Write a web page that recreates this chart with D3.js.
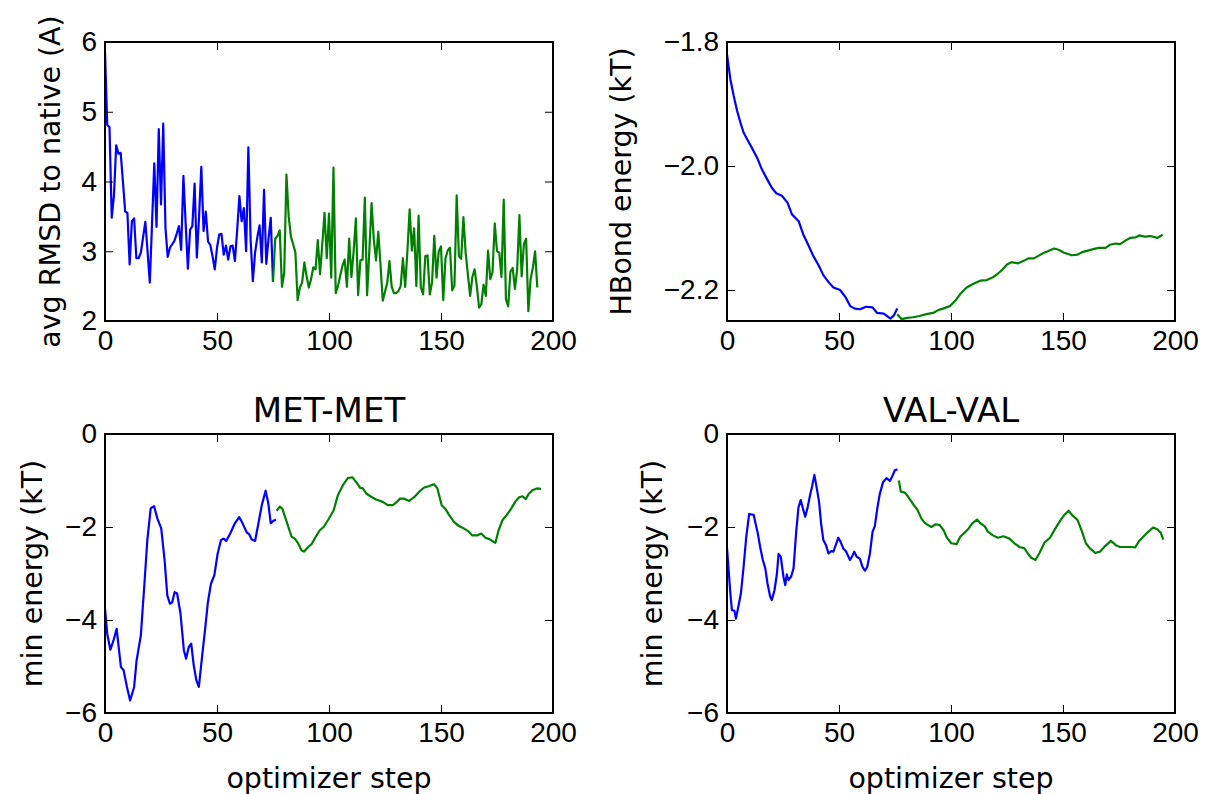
<!DOCTYPE html>
<html>
<head>
<meta charset="utf-8">
<script src="https://cdn.jsdelivr.net/npm/d3@7"></script>
<style>
  body { margin: 0; background: #fff; }
  svg { display: block; font-family: "DejaVu Sans", sans-serif; }
  .tick text { font-size: 28px; fill: #000; }
  .tick line { stroke: #000; stroke-width: 1; }
  .axis-label { font-size: 28.5px; fill: #000; }
  .panel-title { font-size: 34px; fill: #000; }
</style>
</head>
<body>
<svg id="chart" width="1207" height="794"></svg>
<script>
// Tick values
const stepTicks = [0, 50, 100, 150, 200];
const rmsdTicks = [2, 3, 4, 5, 6];
const hbondTicks = [-2.2, -2.0, -1.8];
const energyTicks = [-6, -4, -2, 0];

// avg RMSD to native, one value per optimizer step
const rmsdBlueStart = 0;
const rmsdBlue = [
  5.86, 4.81, 4.78, 3.48, 3.8, 4.52, 4.40, 4.41, 4.0, 3.57,
  3.55, 2.81, 3.43, 3.47, 2.90, 2.90, 2.98, 3.2, 3.42, 3.0,
  2.55, 3.4, 4.26, 3.35, 4.75, 3.67, 4.83, 3.33, 2.92, 3.05,
  3.1, 3.15, 3.25, 3.36, 3.02, 4.08, 3.4, 2.75, 3.31, 3.36,
  3.97, 2.91, 3.5, 4.21, 3.29, 3.57, 3.14, 3.09, 2.93, 2.74,
  3.05, 3.24, 3.25, 2.95, 3.08, 2.88, 3.07, 3.08, 2.86, 3.3,
  3.79, 3.43, 3.62, 3.0, 4.49, 3.17, 2.57, 2.98, 3.2, 3.37,
  2.84, 3.88, 2.82, 3.18, 3.48, 2.56
];
const rmsdGreenStart = 75;
const rmsdGreen = [
  2.56, 3.18, 3.22, 3.30, 2.49, 2.69, 4.10, 3.5, 3.21, 3.1,
  2.98, 2.30, 2.48, 2.55, 2.84, 2.64, 2.48, 2.6, 2.77, 2.74,
  3.16, 2.67, 3.1, 3.55, 2.9, 3.54, 2.62, 4.2, 2.40, 2.5,
  2.65, 2.79, 2.88, 2.49, 3.18, 2.63, 3.0, 3.47, 2.37, 2.87,
  2.88, 3.77, 2.37, 3.0, 3.69, 3.17, 2.87, 3.28, 2.8, 2.29,
  2.42, 2.55, 2.86, 2.49, 2.40, 2.40, 2.43, 2.50, 2.90, 2.49,
  3.0, 3.60, 3.01, 3.33, 2.50, 3.51, 2.48, 2.38, 2.93, 2.94,
  2.38, 2.55, 3.22, 2.62, 3.0, 3.07, 2.30, 2.9, 3.01, 3.05,
  2.44, 2.51, 3.80, 2.93, 2.89, 3.49, 2.98, 2.67, 2.36, 2.63,
  2.74, 2.50, 2.19, 2.24, 2.52, 2.36, 3.01, 2.60, 2.70, 3.40,
  3.0, 2.98, 2.63, 3.74, 2.31, 2.21, 2.71, 2.76, 2.46, 2.74,
  3.52, 2.64, 3.10, 3.18, 2.14, 2.60, 2.76, 3.0, 2.48
];

// HBond energy [step, kT]
const hbondBlue = [
  [0, -1.820], [1.5, -1.860], [3, -1.887], [4.5, -1.911], [6, -1.930], [7.4, -1.946],
  [9, -1.957], [11, -1.970], [13.5, -1.987], [15.5, -2.005], [18, -2.022], [20, -2.035],
  [22, -2.044], [24.5, -2.048], [27, -2.059], [29, -2.078], [32, -2.089], [34, -2.110],
  [36.5, -2.129], [38.5, -2.145], [41, -2.161], [43, -2.176], [45.5, -2.188], [47.5, -2.196],
  [50.5, -2.200], [53, -2.212], [55, -2.226], [57, -2.230], [59.5, -2.231], [62, -2.227],
  [65, -2.228], [67, -2.237], [70, -2.238], [73, -2.246], [74.5, -2.241], [76, -2.230]
];
const hbondGreen = [
  [76, -2.239], [78, -2.247], [80.5, -2.245], [83, -2.244], [86, -2.242], [89, -2.239],
  [92, -2.237], [94.5, -2.232], [96.5, -2.230], [99.5, -2.226], [102, -2.217], [104, -2.207],
  [107, -2.196], [110, -2.190], [113, -2.185], [116, -2.184], [118.5, -2.180], [120.5, -2.175],
  [123, -2.167], [125, -2.159], [127, -2.155], [130, -2.157], [132.5, -2.153], [134.5, -2.149],
  [137, -2.149], [139, -2.145], [141.5, -2.140], [143.5, -2.137], [146, -2.133], [148, -2.135],
  [150.5, -2.140], [154, -2.144], [156.5, -2.143], [158.5, -2.139], [161.5, -2.136], [163.5, -2.134],
  [166, -2.132], [169, -2.132], [171, -2.127], [173.5, -2.125], [175.5, -2.126], [178, -2.120],
  [180, -2.116], [182.5, -2.115], [184, -2.112], [186.5, -2.114], [189, -2.113], [192, -2.116],
  [194.5, -2.111]
];

// MET-MET min energy [step, kT]
const metBlue = [
  [0, -3.75], [1, -4.3], [2.4, -4.64], [3.8, -4.44], [5.2, -4.19], [7.1, -5.01], [8.3, -5.08],
  [9.8, -5.44], [11.2, -5.73], [13, -5.44], [14.1, -4.87], [16, -4.33], [17.5, -3.29],
  [18.9, -2.28], [20.4, -1.60], [21.9, -1.55], [23.4, -1.82], [25.1, -2.03], [26.6, -2.71],
  [27.8, -3.47], [29, -3.65], [30, -3.62], [31.1, -3.40], [32.2, -3.43], [33.7, -3.86],
  [35.2, -4.65], [36.2, -4.83], [37.4, -4.58], [38.5, -4.51], [39.6, -4.97], [40.8, -5.30],
  [41.9, -5.44], [43, -4.94], [44.8, -4.15], [45.9, -3.63], [47.3, -3.22], [48.8, -3.04],
  [50.3, -2.57], [51.8, -2.28], [53, -2.25], [54.1, -2.30], [55.9, -2.14], [58.1, -1.91],
  [59.9, -1.79], [61.1, -1.89], [63.3, -2.12], [64.3, -2.15], [65.5, -2.27], [67, -2.30],
  [68.5, -1.92], [70, -1.53], [71.7, -1.22], [72.9, -1.49], [74, -1.92], [75.1, -1.87],
  [76.3, -1.84]
];
const metGreen = [
  [76.6, -1.65], [78.1, -1.56], [79.3, -1.62], [81.1, -1.89], [83.3, -2.21], [84.8, -2.25],
  [86.2, -2.35], [87.7, -2.50], [88.8, -2.53], [90.7, -2.43], [92.2, -2.37], [94.1, -2.21],
  [95.9, -2.07], [97.6, -2.00], [99.6, -1.85], [102.1, -1.64], [104, -1.31], [106.2, -1.10],
  [108.4, -0.95], [110.4, -0.93], [112.1, -1.03], [113.9, -1.16], [115.1, -1.17], [116.6, -1.28],
  [118.8, -1.35], [121, -1.41], [124, -1.46], [126.2, -1.53], [128.4, -1.53], [129.9, -1.48],
  [131.7, -1.39], [133.6, -1.39], [135.8, -1.44], [138, -1.36], [140.3, -1.24], [142.5, -1.15],
  [144.7, -1.12], [146.9, -1.08], [148.4, -1.17], [150.3, -1.53], [152.1, -1.62], [153.6, -1.74],
  [155.8, -1.89], [158, -1.98], [160.2, -2.03], [162.4, -2.10], [163.9, -2.18], [166.1, -2.18],
  [168, -2.14], [169.8, -2.23], [171.6, -2.26], [172.8, -2.30], [174.3, -2.34], [175.7, -2.07],
  [177.5, -1.85], [179.4, -1.74], [181.4, -1.60], [183.1, -1.46], [184.9, -1.36], [186.4, -1.34],
  [187.9, -1.40], [189.1, -1.29], [190.8, -1.21], [192.8, -1.17], [194.7, -1.18]
];

// VAL-VAL min energy [step, kT]
const valBlue = [
  [0, -2.45], [1.5, -3.43], [2.2, -3.79], [3.3, -3.80], [4, -3.97], [5.2, -3.68], [6.2, -3.43],
  [7.4, -2.86], [8.6, -2.21], [9.9, -1.72], [11.9, -1.74], [13.6, -2.10], [14.8, -2.43],
  [16, -2.71], [17.1, -2.89], [18.1, -3.22], [19.3, -3.50], [20, -3.57], [21.2, -3.36],
  [22.3, -3.00], [23, -2.58], [24, -2.64], [25.2, -3.07], [26, -3.25], [26.7, -3.02],
  [27.4, -3.14], [28.6, -3.07], [29.7, -2.89], [30.9, -2.10], [31.9, -1.58], [32.9, -1.42],
  [34.1, -1.64], [34.9, -1.78], [35.9, -1.60], [37.1, -1.31], [38.1, -1.10], [39, -0.88],
  [40.1, -1.17], [41.1, -1.46], [42, -1.92], [43, -2.28], [44.2, -2.39], [45.3, -2.57],
  [46.4, -2.52], [47.5, -2.53], [48.7, -2.37], [49.7, -2.23], [50.7, -2.32], [51.9, -2.46],
  [53.1, -2.52], [54.9, -2.71], [55.9, -2.63], [56.8, -2.53], [57.9, -2.64], [59.3, -2.68],
  [60.5, -2.86], [61.6, -2.94], [62.6, -2.86], [63.8, -2.57], [65, -2.10], [66, -1.98],
  [67.1, -1.60], [68.2, -1.29], [69.7, -1.03], [71.2, -0.95], [72.7, -1.01], [73.9, -0.90],
  [74.9, -0.78], [76.1, -0.76]
];
const valGreen = [
  [76.7, -1.00], [77.6, -1.24], [79.4, -1.26], [80.9, -1.35], [83.1, -1.51], [84.9, -1.62],
  [86.8, -1.82], [88.3, -1.91], [89.8, -1.96], [91.2, -2.00], [93.2, -1.94], [95, -1.96],
  [96.7, -2.07], [98.2, -2.23], [100.1, -2.35], [102.5, -2.37], [104.1, -2.21], [106.1, -2.12],
  [107.6, -2.05], [109.5, -1.92], [111.6, -1.84], [113.1, -1.92], [115, -1.98], [116.5, -2.10],
  [118.7, -2.18], [120.9, -2.23], [123.4, -2.20], [126.1, -2.25], [128.3, -2.35], [130.6, -2.43],
  [132.8, -2.46], [134.3, -2.57], [135.8, -2.66], [137.7, -2.71], [139.5, -2.56], [141.7, -2.34],
  [144.2, -2.23], [146.6, -2.03], [148.7, -1.87], [150.6, -1.74], [152.5, -1.65], [154, -1.74],
  [156.5, -1.85], [158.5, -2.10], [160.2, -2.35], [162, -2.46], [164.4, -2.56], [166.5, -2.53],
  [168.8, -2.41], [171.4, -2.30], [173.6, -2.39], [175.4, -2.43], [178, -2.43], [180.3, -2.43],
  [182.2, -2.44], [184, -2.30], [185.8, -2.21], [187.7, -2.12], [190.2, -2.01], [192.1, -2.05],
  [193.6, -2.12], [194.8, -2.27]
];

const BLUE = '#0000ff';
const GREEN = '#008000';

const svg = d3.select('#chart');

// turn a per-step value list into [step, value] pairs
function indexed(values, start) {
  return values.map((v, i) => [start + i, v]);
}

function drawPanel(opts) {
  const { left, top, width, height } = opts.box;
  const g = svg.append('g').attr('transform', `translate(${left},${top})`);

  const x = d3.scaleLinear().domain([0, 200]).range([0, width]);
  const y = d3.scaleLinear().domain(opts.yDomain).range([height, 0]);

  const clipId = 'clip-' + opts.id;
  g.append('clipPath').attr('id', clipId)
    .append('rect').attr('width', width).attr('height', height);

  const line = d3.line().x(d => x(d[0])).y(d => y(d[1]));

  g.append('g').attr('clip-path', `url(#${clipId})`)
    .selectAll('path')
    .data(opts.series)
    .enter()
    .append('path')
    .attr('d', s => line(s.points))
    .attr('fill', 'none')
    .attr('stroke', s => s.color)
    .attr('stroke-width', 2.2)
    .attr('stroke-linejoin', 'round');

  // axes, ticks pointing inward on all four sides
  const bottom = g.append('g')
    .attr('transform', `translate(0,${height})`)
    .call(d3.axisBottom(x).tickValues(stepTicks).tickSizeInner(-8).tickSizeOuter(0).tickPadding(9));
  const leftAxis = g.append('g')
    .call(d3.axisLeft(y).tickValues(opts.yTicks).tickFormat(opts.yFormat)
      .tickSizeInner(-8).tickSizeOuter(0).tickPadding(8));
  const topAxis = g.append('g')
    .call(d3.axisTop(x).tickValues(stepTicks).tickFormat('').tickSizeInner(-8).tickSizeOuter(0));
  const rightAxis = g.append('g')
    .attr('transform', `translate(${width},0)`)
    .call(d3.axisRight(y).tickValues(opts.yTicks).tickFormat('').tickSizeInner(-8).tickSizeOuter(0));

  [bottom, leftAxis, topAxis, rightAxis].forEach(a => {
    a.select('.domain').remove();
    a.selectAll('.tick text').attr('font-family', null).attr('font-size', null);
  });

  // frame
  g.append('rect')
    .attr('width', width)
    .attr('height', height)
    .attr('fill', 'none')
    .attr('stroke', '#000')
    .attr('stroke-width', 2);

  // y label
  g.append('text')
    .attr('class', 'axis-label')
    .attr('transform', `translate(${opts.ylabelX},${height / 2}) rotate(-90)`)
    .attr('text-anchor', 'middle')
    .attr('dominant-baseline', 'central')
    .text(opts.ylabel);

  if (opts.xlabel) {
    g.append('text')
      .attr('class', 'axis-label')
      .attr('x', width / 2)
      .attr('y', height + 75)
      .attr('text-anchor', 'middle')
      .text(opts.xlabel);
  }

  if (opts.title) {
    g.append('text')
      .attr('class', 'panel-title')
      .attr('x', width / 2)
      .attr('y', -12)
      .attr('text-anchor', 'middle')
      .text(opts.title);
  }
}

const intFmt = d3.format('d');
const oneDec = d3.format('.1f');

drawPanel({
  id: 'rmsd',
  box: { left: 105, top: 42, width: 448, height: 279 },
  yDomain: [2, 6], yTicks: rmsdTicks, yFormat: intFmt,
  ylabel: 'avg RMSD to native (A)', ylabelX: -55,
  series: [
    { points: indexed(rmsdBlue, rmsdBlueStart), color: BLUE },
    { points: indexed(rmsdGreen, rmsdGreenStart), color: GREEN }
  ]
});

drawPanel({
  id: 'hbond',
  box: { left: 727, top: 42, width: 448, height: 279 },
  yDomain: [-2.25, -1.8], yTicks: hbondTicks, yFormat: oneDec,
  ylabel: 'HBond energy (kT)', ylabelX: -106,
  series: [
    { points: hbondBlue, color: BLUE },
    { points: hbondGreen, color: GREEN }
  ]
});

drawPanel({
  id: 'met',
  box: { left: 105, top: 434, width: 448, height: 279 },
  yDomain: [-6, 0], yTicks: energyTicks, yFormat: intFmt,
  ylabel: 'min energy (kT)', ylabelX: -73,
  xlabel: 'optimizer step', title: 'MET-MET',
  series: [
    { points: metBlue, color: BLUE },
    { points: metGreen, color: GREEN }
  ]
});

drawPanel({
  id: 'val',
  box: { left: 727, top: 434, width: 448, height: 279 },
  yDomain: [-6, 0], yTicks: energyTicks, yFormat: intFmt,
  ylabel: 'min energy (kT)', ylabelX: -75,
  xlabel: 'optimizer step', title: 'VAL-VAL',
  series: [
    { points: valBlue, color: BLUE },
    { points: valGreen, color: GREEN }
  ]
});
</script>
</body>
</html>
